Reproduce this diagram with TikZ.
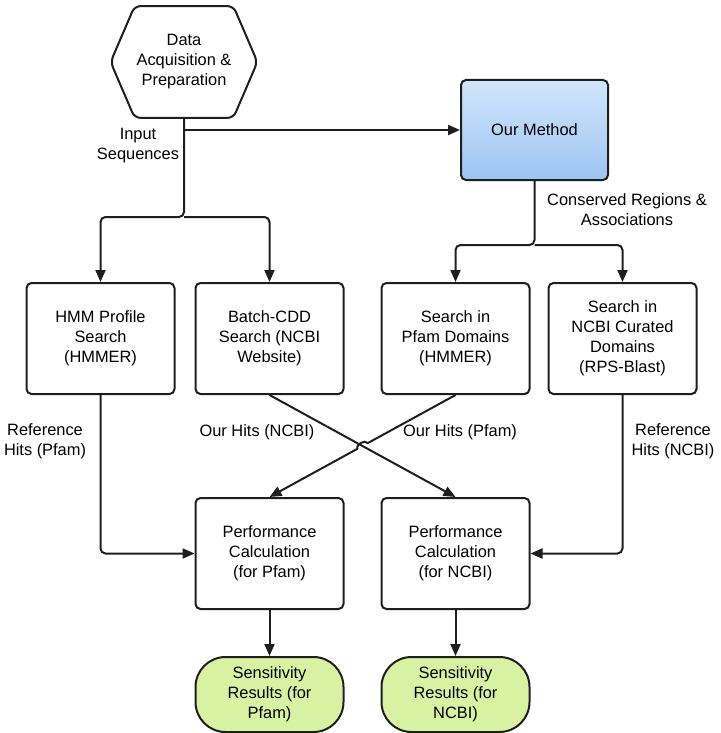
\documentclass[tikz,border=0pt]{standalone}
\usepackage{fontspec}
\setmainfont{Liberation Sans}
\usetikzlibrary{positioning,arrows.meta,calc}
\definecolor{LineGray}{HTML}{1E1E1E}
\definecolor{MethodTop}{HTML}{D2E5FB}
\definecolor{MethodBot}{HTML}{9CC5F2}
\definecolor{ResultGreen}{HTML}{D8F2A4}

\begin{document}
\begin{tikzpicture}[
  x=0.5pt, y=-0.5pt,
  font=\fontsize{8.2}{10}\selectfont,
  frame/.style={draw=LineGray, line width=1pt, rounded corners=2.5pt,
    minimum width=74pt, minimum height=55.5pt, align=center, inner sep=1pt},
  box/.style={frame, fill=white},
  result/.style={frame, minimum height=37.5pt, rounded corners=15pt, fill=ResultGreen},
  hexa/.style={minimum width=73pt, minimum height=55.5pt, align=center, inner sep=1pt},
  hexline/.style={draw=LineGray, line width=1pt, rounded corners=3pt},
  arr/.style={-{Triangle[length=6pt,width=5pt]}, line width=1pt, draw=LineGray, rounded corners=2.5pt},
  lbl/.style={align=center, inner sep=0pt}
]
  \useasboundingbox (0,0) rectangle (720,733);

  % sources
  \node[hexa] (data) at (184,62) {Data\\Acquisition \&\\Preparation};
  \draw[hexline] (data.west) -- ([xshift=12pt]data.north west) -- ([xshift=-12pt]data.north east)
    -- (data.east) -- ([xshift=-12pt]data.south east) -- ([xshift=12pt]data.south west) -- cycle;
  \node[frame, minimum width=73.5pt, minimum height=50pt,
    top color=MethodTop, bottom color=MethodBot] (method) at (534.5,130) {Our Method};

  % searches
  \node[box] (hmm) at (100.5,338.5) {HMM Profile\\Search\\(HMMER)};
  \node[box, right=9.5pt of hmm] (cdd) {Batch-CDD\\Search (NCBI\\Website)};
  \node[box, right=18pt of cdd] (pfamsrch) {Search in\\Pfam Domains\\(HMMER)};
  \node[box, right=8.5pt of pfamsrch] (ncbisrch) {Search in\\NCBI Curated\\Domains\\(RPS-Blast)};

  % evaluation
  \node[box, below=51pt of cdd] (perfP) {Performance\\Calculation\\(for Pfam)};
  \node[box, below=51pt of pfamsrch] (perfN) {Performance\\Calculation\\(for NCBI)};
  \node[result, below=23pt of perfP] (resP) {Sensitivity\\Results (for\\Pfam)};
  \node[result, below=23pt of perfN] (resN) {Sensitivity\\Results (for\\NCBI)};

  % labels
  \node[lbl] (inlbl) at (138,146) {Input\\Sequences};
  \node[lbl] (conslbl) at (627,210) {Conserved Regions \&\\Associations};
  \node[lbl] (refP) at (45,441) {Reference\\Hits (Pfam)};
  \node[lbl] (ourN) at (257,432) {Our Hits (NCBI)};
  \node[lbl] (ourP) at (460,432) {Our Hits (Pfam)};
  \node[lbl] (refN) at (673,441) {Reference\\Hits (NCBI)};

  \coordinate (split) at (184,217);
  \coordinate (msplit) at (534.5,245);
  \path (cdd.south) -- (perfN.north) coordinate[pos=0.5] (cross);

  \draw[arr] (data.south) -- (split) -| (hmm.north);
  \draw[arr] (split) -| (cdd.north);
  \draw[arr] (data.south |- method.west) -- (method.west);
  \draw[arr] (method.south) -- (msplit) -| (pfamsrch.north);
  \draw[arr] (msplit) -| (ncbisrch.north);
  \draw[arr] (hmm.south) |- (perfP.west);
  \draw[arr] (ncbisrch.south) |- (perfN.east);
  \draw[arr] (cdd.south) -- (perfN.north);
  \draw[arr, sharp corners] (pfamsrch.south) -- ($(cross)!3pt!(pfamsrch.south)$)
    to[bend right=90] ($(cross)!3pt!(perfP.north)$) -- (perfP.north);
  \draw[arr] (perfP) -- (resP);
  \draw[arr] (perfN) -- (resN);
\end{tikzpicture}
\end{document}
